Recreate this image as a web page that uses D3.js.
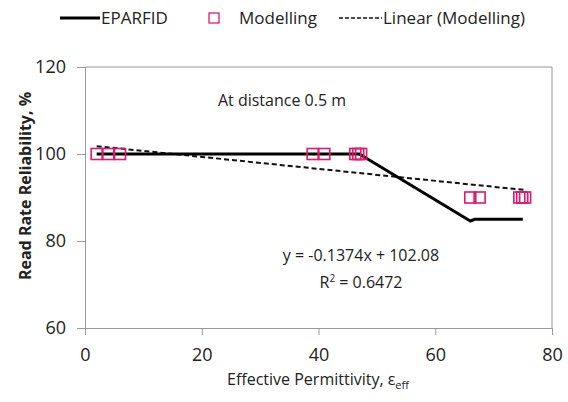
<!DOCTYPE html>
<html>
<head>
<meta charset="utf-8">
<script src="https://cdn.jsdelivr.net/npm/d3@7"></script>
<style>
  body { margin: 0; background: #fff; }
  svg text { font-family: 'Liberation Sans Narrow', 'Open Sans', sans-serif; fill: #222; }
</style>
</head>
<body>
<main></main>
<script>
// EPARFID measured line
const eparfidX = [2, 47, 66, 66.8, 75];
const eparfidY = [100, 100, 84.6, 85, 85];

// Modelling points
const modelX = [2, 4, 6, 39, 41, 46.3, 46.8, 47.3, 66, 67.6, 74.4, 74.9, 75.4];
const modelY = [100, 100, 100, 100, 100, 100, 100, 100, 90, 90, 90, 90, 90];

// Linear fit of modelling (slope, intercept)
const fitCoef = [-0.1374, 102.08];

const xTicks = [0, 20, 40, 60, 80];
const yTicks = [60, 80, 100, 120];

const W = 568, H = 402;
const mLeft = 85, mRight = 552, mTop = 67, mBottom = 328;

const svg = d3.select('main').append('svg')
  .attr('width', W).attr('height', H);

const x = d3.scaleLinear().domain([0, 80]).range([mLeft, mRight]);
const y = d3.scaleLinear().domain([60, 120]).range([mBottom, mTop]);

// plot frame (top + right)
svg.append('path')
  .attr('d', `M${mLeft},${mTop}H${mRight}V${mBottom}`)
  .attr('fill', 'none').attr('stroke', '#999').attr('stroke-width', 1);

const yAxis = svg.append('g')
  .attr('transform', `translate(${mLeft},0)`)
  .call(d3.axisLeft(y).tickValues(yTicks).tickSize(8).tickPadding(11));

const xAxis = svg.append('g')
  .attr('transform', `translate(0,${mBottom})`)
  .call(d3.axisBottom(x).tickValues(xTicks).tickSize(7).tickPadding(13));

[yAxis, xAxis].forEach(g => {
  g.select('.domain').attr('stroke', '#999');
  g.selectAll('.tick line').attr('stroke', '#999');
  g.selectAll('.tick text').style('font-size', '18px').attr('fill', '#222');
});

// trend line
const fx = d3.extent(modelX);
const fitPts = fx.map(v => [v, fitCoef[0] * v + fitCoef[1]]);
svg.append('path')
  .datum(fitPts)
  .attr('d', d3.line().x(d => x(d[0])).y(d => y(d[1])))
  .attr('fill', 'none').attr('stroke', '#111')
  .attr('stroke-width', 2).attr('stroke-dasharray', '5,3');

// EPARFID line
svg.append('path')
  .datum(eparfidX.map((v, i) => [v, eparfidY[i]]))
  .attr('d', d3.line().x(d => x(d[0])).y(d => y(d[1])))
  .attr('fill', 'none').attr('stroke', '#000')
  .attr('stroke-width', 3).attr('stroke-linejoin', 'round');

// modelling squares
const sq = 11;
svg.append('g').selectAll('rect')
  .data(modelX.map((v, i) => [v, modelY[i]]))
  .enter().append('rect')
  .attr('x', d => x(d[0]) - sq / 2)
  .attr('y', d => y(d[1]) - sq / 2)
  .attr('width', sq).attr('height', sq)
  .attr('fill', 'none').attr('stroke', '#e2186c').attr('stroke-width', 1.6);

// annotations
svg.append('text').attr('x', 282).attr('y', 106)
  .attr('text-anchor', 'middle').style('font-size', '16px')
  .text('At distance 0.5 m');

svg.append('text').attr('x', 361).attr('y', 261)
  .attr('text-anchor', 'middle').style('font-size', '16px')
  .text('y = -0.1374x + 102.08');

const r2 = svg.append('text').attr('x', 361).attr('y', 288)
  .attr('text-anchor', 'middle').style('font-size', '16px');
r2.append('tspan').text('R');
r2.append('tspan').attr('dy', -6).style('font-size', '10px').text('2');
r2.append('tspan').attr('dy', 6).text(' = 0.6472');

// axis titles
svg.append('text')
  .attr('transform', `translate(31,186) rotate(-90)`)
  .attr('text-anchor', 'middle')
  .style('font-size', '16px').style('font-weight', 'bold')
  .text('Read Rate Reliability, %');

const xt = svg.append('text').attr('x', 318).attr('y', 385)
  .attr('text-anchor', 'middle').style('font-size', '16px');
xt.append('tspan').text('Effective Permittivity, ε');
xt.append('tspan').attr('dy', 4).style('font-size', '11px').text('eff');

// legend
const ly = 18;
const legend = svg.append('g');
legend.append('line').attr('x1', 60).attr('x2', 100).attr('y1', ly).attr('y2', ly)
  .attr('stroke', '#000').attr('stroke-width', 3);
legend.append('text').attr('x', 101).attr('y', ly + 6).style('font-size', '17px').text('EPARFID');
legend.append('rect').attr('x', 209).attr('y', ly - 5).attr('width', 10).attr('height', 10)
  .attr('fill', 'none').attr('stroke', '#e2186c').attr('stroke-width', 1.3);
legend.append('text').attr('x', 239).attr('y', ly + 6).style('font-size', '17px').text('Modelling');
legend.append('line').attr('x1', 339).attr('x2', 382).attr('y1', ly).attr('y2', ly)
  .attr('stroke', '#111').attr('stroke-width', 1.6).attr('stroke-dasharray', '4,2');
legend.append('text').attr('x', 383).attr('y', ly + 6).style('font-size', '17px').text('Linear (Modelling)');
</script>
</body>
</html>
